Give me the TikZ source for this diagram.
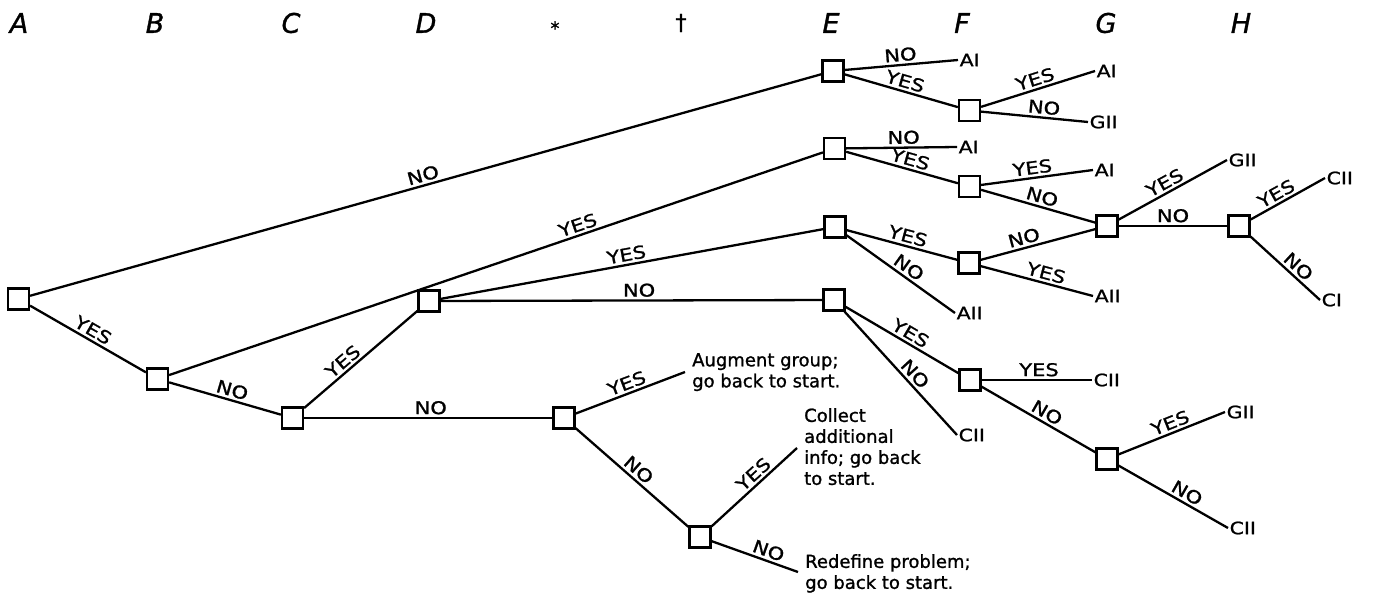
\documentclass[tikz,border=0pt]{standalone}
\usepackage{fontspec}
\setmainfont{DejaVu Sans}
\newfontfamily\lblfont[FakeStretch=1.2,FakeBold=1.2]{DejaVu Sans}
\newfontfamily\txtfont[FakeBold=1.2]{DejaVu Sans}
\newfontfamily\hdrfont[FakeBold=1.2]{DejaVu Sans Oblique}
\tikzset{
 box/.style={draw, fill=white, line width=2.2pt, minimum size=21pt, inner sep=0pt},
 edge/.style={line width=2.3pt},
 lab/.style={font=\lblfont\fontsize{17.5}{17.5}\selectfont, inner sep=2.5pt, sloped, above},
 leaf/.style={font=\lblfont\fontsize{17}{17}\selectfont, anchor=west, inner sep=1.5pt},
 note/.style={font=\txtfont\fontsize{18}{21}\selectfont, align=left, anchor=north west, inner sep=0pt},
 hdr/.style={font=\hdrfont\fontsize{27}{27}\selectfont, inner sep=0pt}
}
\begin{document}
\begin{tikzpicture}[x=1pt,y=-1pt]
\useasboundingbox (0,0) rectangle (1373,594);
% headers
\node[hdr] (hA) at (19,23) {A};
\node[hdr] (hB) at (155,23) {B};
\node[hdr] (hC) at (291,23) {C};
\node[hdr] (hD) at (426,23) {D};
\node[font=\txtfont\fontsize{18}{18}\selectfont, inner sep=0pt] (hS) at (555,28) {*};
\node[font=\txtfont\fontsize{22}{22}\selectfont, inner sep=0pt] (hT) at (681,23) {†};
\node[hdr] (hE) at (831,23) {E};
\node[hdr] (hF) at (962,23) {F};
\node[hdr] (hG) at (1106,23) {G};
\node[hdr] (hH) at (1241,23) {H};
% decision boxes
\node[box] (n1) at (18.5,299) {};
\node[box] (n2) at (157.5,379) {};
\node[box] (n3) at (292.5,418) {};
\node[box] (n4) at (429,301) {};
\node[box] (n5) at (564,418) {};
\node[box] (n6) at (700,537) {};
\node[box] (e1) at (833,71) {};
\node[box] (e2) at (834.5,148.5) {};
\node[box] (e3) at (835,227) {};
\node[box] (e4) at (834,300) {};
\node[box] (f1) at (969.5,110.5) {};
\node[box] (f2) at (969.5,186.5) {};
\node[box] (f3) at (969,263) {};
\node[box] (f4) at (970,380) {};
\node[box] (g1) at (1107,226) {};
\node[box] (g2) at (1107,459) {};
\node[box] (h1) at (1239,226) {};
% leaves
\node[leaf] (la1) at (958,60) {AI};
\node[leaf] (la2) at (1095,71) {AI};
\node[leaf] (lg1) at (1088,122) {GII};
\node[leaf] (la3) at (957,147) {AI};
\node[leaf] (la4) at (1093,170) {AI};
\node[leaf] (la5) at (955,313) {AII};
\node[leaf] (la6) at (1093,296) {AII};
\node[leaf] (lg2) at (1227,160) {GII};
\node[leaf] (lc1) at (1325,178) {CII};
\node[leaf] (lc2) at (1320,300) {CI};
\node[leaf] (lc3) at (957,435) {CII};
\node[leaf] (lc4) at (1092,380) {CII};
\node[leaf] (lg3) at (1225,412) {GII};
\node[leaf] (lc5) at (1228,528) {CII};
% notes
\coordinate (ca) at (685,372);
\coordinate (cb) at (797,448);
\coordinate (cc) at (798,572);
\node[note] (ta) at (692,353) {Augment group;\\go back to start.};
\node[note] (tb) at (804,408) {Collect\\additional\\info; go back\\to start.};
\node[note] (tc) at (805,554) {Redefine problem;\\go back to start.};
% edges
\draw[edge] (n1) -- node[lab,pos=.5]{NO} (e1);
\draw[edge] (n1) -- node[lab,pos=.5]{YES} (n2);
\draw[edge] (n2) -- node[lab,pos=.63]{YES} (e2);
\draw[edge] (n2) -- node[lab,pos=.54]{NO} (n3);
\draw[edge] (n3) -- node[lab,pos=.4]{YES} (n4);
\draw[edge] (n3) -- node[lab,pos=.51]{NO} (n5);
\draw[edge] (n4) -- node[lab,pos=.49]{YES} (e3);
\draw[edge] (n4) -- node[lab,pos=.52]{NO} (e4);
\draw[edge] (n5) -- node[lab,pos=.5]{YES} (ca);
\draw[edge] (n5) -- node[lab,pos=.5]{NO} (n6);
\draw[edge] (n6) -- node[lab,pos=.57]{YES} (cb);
\draw[edge] (n6) -- node[lab,pos=.62]{NO} (cc);
\draw[edge] (e1) -- node[lab,pos=.5]{NO} (la1.west);
\draw[edge] (e1) -- node[lab,pos=.51]{YES} (f1);
\draw[edge] (f1) -- node[lab,pos=.5]{YES} (la2.west);
\draw[edge] (f1) -- node[lab,pos=.58]{NO} (lg1.west);
\draw[edge] (e2) -- node[lab,pos=.52]{NO} (la3.west);
\draw[edge] (e2) -- node[lab,pos=.55]{YES} (f2);
\draw[edge] (f2) -- node[lab,pos=.47]{YES} (la4.west);
\draw[edge] (f2) -- node[lab,pos=.51]{NO} (g1);
\draw[edge] (e3) -- node[lab,pos=.53]{YES} (f3);
\draw[edge] (e3) -- node[lab,pos=.52]{NO} (la5.west);
\draw[edge] (f3) -- node[lab,pos=.4]{NO} (g1);
\draw[edge] (f3) -- node[lab,pos=.56]{YES} (la6.west);
\draw[edge] (g1) -- node[lab,pos=.47]{YES} (lg2.west);
\draw[edge] (g1) -- node[lab,pos=.5]{NO} (h1);
\draw[edge] (h1) -- node[lab,pos=.41]{YES} (lc1.west);
\draw[edge] (h1) -- node[lab,pos=.59]{NO} (lc2.west);
\draw[edge] (e4) -- node[lab,pos=.53]{YES} (f4);
\draw[edge] (e4) -- node[lab,pos=.56]{NO} (lc3.west);
\draw[edge] (f4) -- node[lab,pos=.52]{YES} (lc4.west);
\draw[edge] (f4) -- node[lab,pos=.53]{NO} (g2);
\draw[edge] (g2) -- node[lab,pos=.52]{YES} (lg3.west);
\draw[edge] (g2) -- node[lab,pos=.58]{NO} (lc5.west);
\end{tikzpicture}
\end{document}
